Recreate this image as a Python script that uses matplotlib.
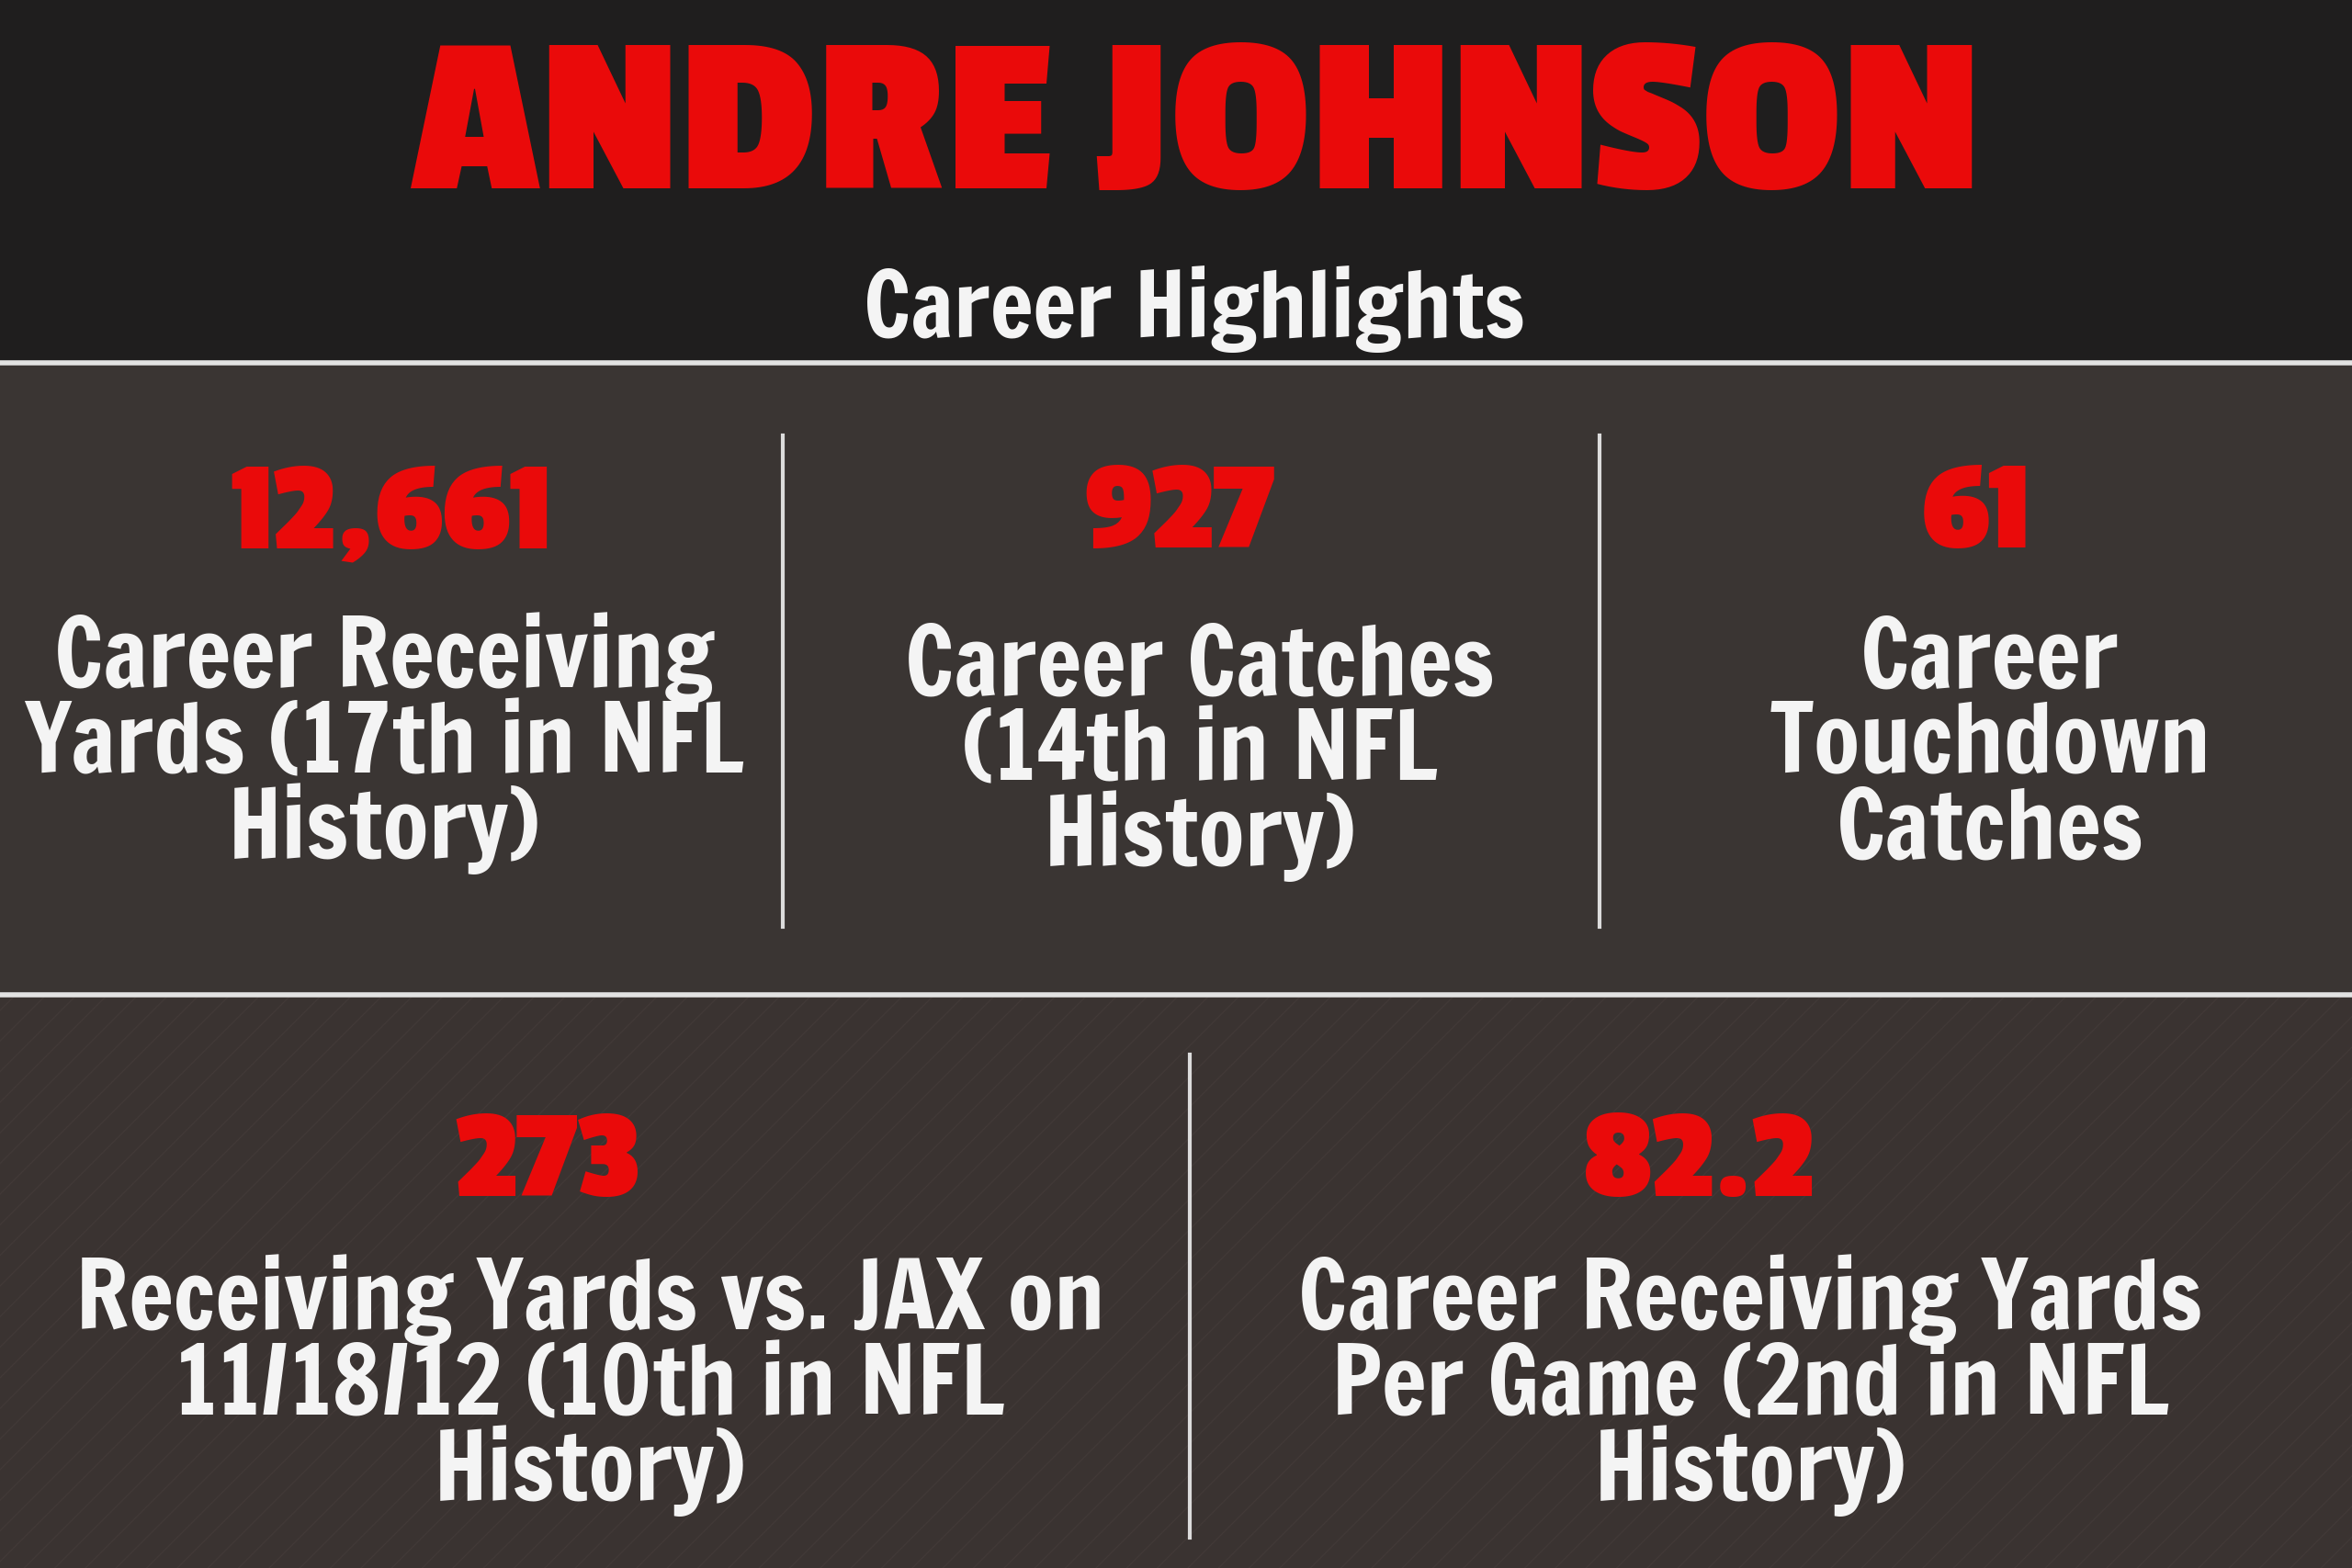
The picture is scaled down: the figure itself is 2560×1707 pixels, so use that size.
import matplotlib.pyplot as plt
from matplotlib.patches import Rectangle

# chart content
player = "ANDRE JOHNSON"
subtitle = "Career Highlights"

top_values = ["12,661", "927", "61"]
top_labels = [
    ["Career Receiving", "Yards (17th in NFL", "History)"],
    ["Career Catches", "(14th in NFL", "History)"],
    ["Career", "Touchdown", "Catches"],
]
bottom_values = ["273", "82.2"]
bottom_labels = [
    ["Receiving Yards vs. JAX on", "11/18/12 (10th in NFL", "History)"],
    ["Career Receiving Yards", "Per Game (2nd in NFL", "History)"],
]

W, H = 2560, 1707
RED = "#ea0a0a"
WHITE = "#f4f4f4"
LABEL_FONT = ["Francois One", "Anton", "DejaVu Sans"]
NUM_FONT = ["Passion One", "DejaVu Sans"]

fig = plt.figure(figsize=(W / 100, H / 100), dpi=100)
ax = fig.add_axes([0, 0, 1, 1])
ax.set_xlim(0, W)
ax.set_ylim(H, 0)
ax.axis("off")

# background bands
ax.add_patch(Rectangle((0, 0), W, 395, color="#1f1e1e", zorder=0))
ax.add_patch(Rectangle((0, 395), W, 688, color="#3a3533", zorder=0))
ax.add_patch(Rectangle((0, 1083), W, H - 1083, facecolor="#3a3331",
                       edgecolor="#413937", hatch="/", linewidth=0, zorder=0))
for y in (395, 1083):
    ax.plot([0, W], [y, y], color="#e2e2e2", lw=4, zorder=2)

# dividers
for x in (852, 1741):
    ax.plot([x, x], [474, 1009], color="#dcdcdc", lw=3, zorder=2)
ax.plot([1295, 1295], [1148, 1674], color="#dcdcdc", lw=3, zorder=2)

# header
ax.text(1302, 205, player, color=RED, fontsize=180, fontweight="bold",
        family=NUM_FONT, ha="center", va="baseline")
ax.text(1300, 367, subtitle, color=WHITE, fontsize=71,
        family=LABEL_FONT, ha="center", va="baseline")

line_gap = 93
lab_size = 74

# top row
num_x = [427, 1285, 2152]
lab_x = [418, 1306, 2166]
lab_y = [748, 756, 748]
for i, val in enumerate(top_values):
    ax.text(num_x[i], 596, val, color=RED, fontsize=103, fontweight="bold",
            family=NUM_FONT, ha="center", va="baseline")
    for k, line in enumerate(top_labels[i]):
        ax.text(lab_x[i], lab_y[i] + k * line_gap, line, color=WHITE,
                fontsize=lab_size, family=LABEL_FONT,
                ha="center", va="baseline")

# bottom row
num_x2 = [596, 1849]
lab_x2 = [642, 1905]
for i, val in enumerate(bottom_values):
    ax.text(num_x2[i], 1302, val, color=RED, fontsize=103, fontweight="bold",
            family=NUM_FONT, ha="center", va="baseline")
    for k, line in enumerate(bottom_labels[i]):
        ax.text(lab_x2[i], 1447 + k * line_gap, line, color=WHITE,
                fontsize=lab_size, family=LABEL_FONT,
                ha="center", va="baseline")

fig.savefig("out.png", dpi=100, facecolor="#1f1e1e")
